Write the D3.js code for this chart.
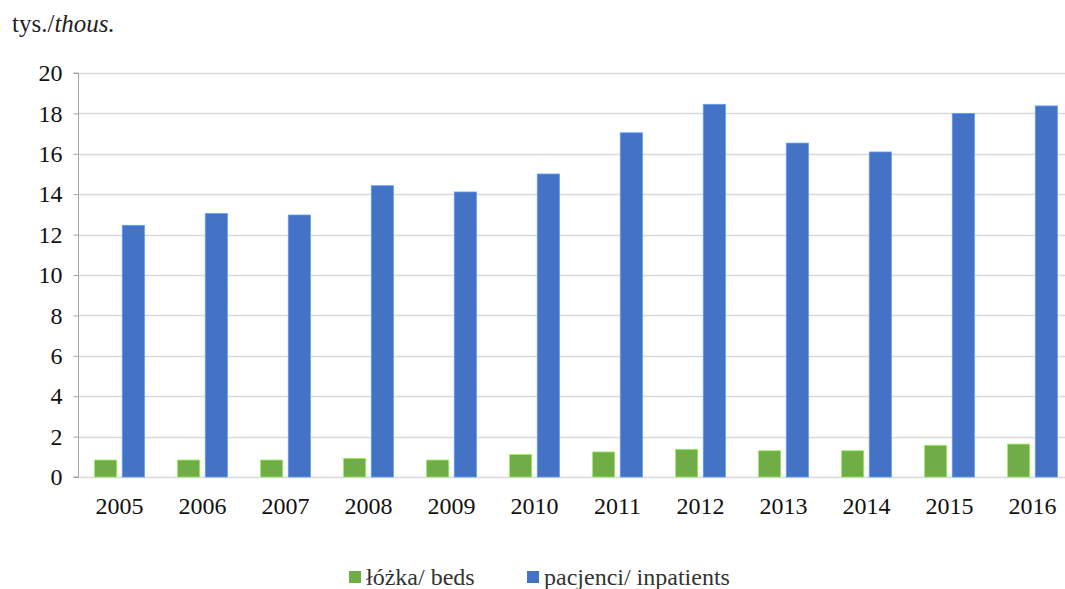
<!DOCTYPE html>
<html><head><meta charset="utf-8">
<script src="https://cdn.jsdelivr.net/npm/d3@7"></script>
<style>body{margin:0;background:#fff;font-family:'Liberation Serif',serif}#wrap{position:relative;width:1065px;height:589px}
#title{position:absolute;left:12px;top:10px;font-size:25px;color:#222}</style>
</head><body><div id="wrap"><div id="title">tys./<i>thous.</i></div><svg id="c" width="1065" height="589"></svg></div>
<script>
const years = ["2005","2006","2007","2008","2009","2010","2011","2012","2013","2014","2015","2016"];
const beds = [0.84,0.84,0.84,0.92,0.84,1.11,1.24,1.37,1.30,1.30,1.57,1.63];
const inpatients = [12.46,13.04,12.97,14.42,14.11,15.0,17.04,18.45,16.53,16.09,18.0,18.37];
const yTicks = [0,2,4,6,8,10,12,14,16,18,20];
const seriesNames = ["łóżka/ beds","pacjenci/ inpatients"];
const seriesColors = ["#70AD47","#4472C4"];

const svg = d3.select("#c");
const m = {left:78, right:1074, top:73, bottom:477};
const x0 = d3.scaleBand().domain(years).range([m.left,m.right]).paddingInner(0.4).paddingOuter(0.2);
const x1 = d3.scaleBand().domain([0,1]).range([0,x0.bandwidth()]).paddingInner(0.2);
const y = d3.scaleLinear().domain([0,20]).range([m.bottom,m.top]);
const font = "serif";

// gridlines
svg.append("g").selectAll("line").data(yTicks).join("line")
  .attr("x1",m.left).attr("x2",1065).attr("y1",d=>Math.round(y(d))+0.5).attr("y2",d=>Math.round(y(d))+0.5)
  .attr("stroke","#d9d9d9").attr("stroke-width",1.3);

// y axis
const ya = svg.append("g").attr("transform",`translate(${m.left+0.5},0)`)
  .call(d3.axisLeft(y).tickValues(yTicks).tickSize(5).tickPadding(8));
ya.attr("font-family",font);
ya.select(".domain").attr("stroke","#a6a6a6").attr("d",`M-5,${y(20)}H0V${y(0)}H-5`);
ya.selectAll(".tick line").attr("stroke","#a6a6a6");
ya.selectAll(".tick text").attr("font-family",font).attr("font-size",24).attr("fill","#111").attr("dx",-3);

// bars
const data = [beds, inpatients];
data.forEach((vals,si)=>{
  svg.append("g").selectAll("rect").data(vals).join("rect")
    .attr("x",(d,i)=>x0(years[i])+x1(si))
    .attr("width",x1.bandwidth())
    .attr("y",d=>y(d))
    .attr("height",d=>y(0)-y(d))
    .attr("fill",seriesColors[si])
    .attr("stroke",d3.color(seriesColors[si]).brighter(0.9))
    .attr("stroke-width",0.8);
});

// x axis labels
const xa = svg.append("g").attr("transform",`translate(0,${m.bottom})`)
  .call(d3.axisBottom(x0).tickSize(0).tickPadding(20));
xa.attr("font-family",font);
xa.select(".domain").remove();
xa.selectAll(".tick text").attr("font-family",font).attr("font-size",24).attr("fill","#111");

// legend
const legX = [349,527];
seriesNames.forEach((n,i)=>{
  svg.append("rect").attr("x",legX[i]).attr("y",571).attr("width",12).attr("height",12).attr("fill",seriesColors[i]);
  svg.append("text").attr("x",legX[i]+17).attr("y",585).attr("font-family",font).attr("font-size",24).attr("fill","#333").text(n);
});
</script></body></html>
